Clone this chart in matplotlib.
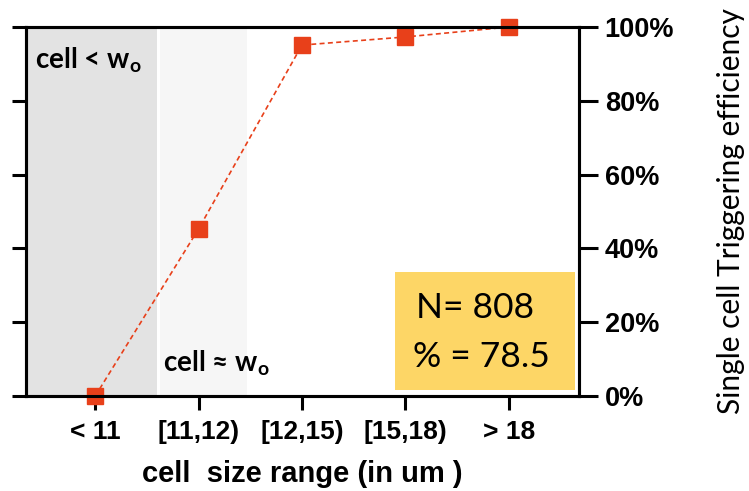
import matplotlib.pyplot as plt
from matplotlib.ticker import PercentFormatter

categories = ["< 11", "[11,12)", "[12,15)", "[15,18)", "> 18"]
efficiency = [0, 45.3, 95.1, 97.3, 100]
y_ticks = [0, 20, 40, 60, 80, 100]
n_cells = 808
pct_total = 78.5

red = "#e8401a"

fig = plt.figure(figsize=(7.49, 4.91), dpi=100)
ax = fig.add_axes([26 / 749, 95 / 491, 553 / 749, 369 / 491])

x = list(range(len(categories)))

# shaded size regions
ax.axvspan(-0.67, 0.6, color="#e3e3e3", lw=0, zorder=0)
ax.axvspan(0.63, 1.47, color="#f6f6f6", lw=0, zorder=0)

ax.plot(x, efficiency, ls=(0, (3, 2)), lw=1.2, color=red, marker="s",
        ms=11, mec=red, mfc=red, clip_on=False, zorder=5)

ax.set_xlim(-0.67, 4.68)
ax.set_ylim(0, 100)
ax.set_xticks(x)
ax.set_xticklabels(categories, fontsize=19, fontweight="bold",
                   family="Liberation Sans")
ax.set_yticks(y_ticks)
ax.tick_params(axis="y", direction="out", length=10, width=2.2, labelleft=False)
ax.tick_params(axis="x", direction="out", length=10, width=2.2, pad=7)
for s in ax.spines.values():
    s.set_linewidth(2.2)

ax.set_xlabel("cell  size range (in um )", fontsize=21, fontweight="bold",
              family="Liberation Sans", labelpad=12)

ax2 = ax.twinx()
ax2.set_ylim(0, 100)
ax2.set_yticks(y_ticks)
ax2.yaxis.set_major_formatter(PercentFormatter(decimals=0))
ax2.tick_params(axis="y", direction="out", length=13.5, width=2.2, pad=5)
for lab in ax2.get_yticklabels():
    lab.set_fontsize(19.5)
    lab.set_fontweight("bold")
    lab.set_family("Liberation Sans")
ax2.set_ylabel("Single cell Triggering efficiency", fontsize=21.5,
               family="Lato", labelpad=31)
for s in ax2.spines.values():
    s.set_linewidth(2.2)

ax.text(-0.58, 91, r"cell < w$_\mathregular{o}$", fontsize=20,
        fontweight="bold", family="Lato", va="center")
ax.text(0.66, 9, r"cell ≈ w$_\mathregular{o}$", fontsize=20,
        fontweight="bold", family="Lato", va="center")

# N / percentage box
ax.add_patch(plt.Rectangle((2.9, 1.5), 1.74, 32, transform=ax.transData,
                           color="#fdd666", lw=0, zorder=1))
ax.text(3.1, 23.8, f"N= {n_cells}", fontsize=25.5, family="Lato",
        va="center", zorder=2)
ax.text(3.07, 10.6, f"% = {pct_total}", fontsize=25.5, family="Lato",
        va="center", zorder=2)

fig.savefig("out.png", dpi=100)
